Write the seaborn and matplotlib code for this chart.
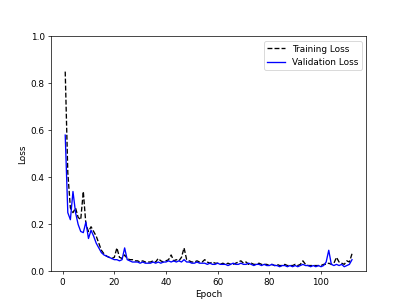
import matplotlib
matplotlib.use("Agg")
import matplotlib.pyplot as plt
import seaborn as sns
import pandas as pd

train_loss = [
    0.85, 0.42, 0.27, 0.25, 0.27, 0.23, 0.22, 0.34, 0.20, 0.17,
    0.19, 0.17, 0.15, 0.12, 0.09, 0.075, 0.065, 0.06, 0.055, 0.06,
    0.10, 0.06, 0.055, 0.07, 0.055, 0.05, 0.05, 0.045, 0.045, 0.04,
    0.045, 0.04, 0.04, 0.04, 0.045, 0.04, 0.055, 0.045, 0.04, 0.045,
    0.05, 0.07, 0.045, 0.05, 0.045, 0.06, 0.10, 0.05, 0.045, 0.04,
    0.04, 0.045, 0.04, 0.04, 0.05, 0.04, 0.035, 0.04, 0.035, 0.035,
    0.03, 0.035, 0.03, 0.035, 0.03, 0.03, 0.035, 0.04, 0.045, 0.035,
    0.04, 0.03, 0.035, 0.03, 0.03, 0.035, 0.03, 0.03, 0.03, 0.025,
    0.03, 0.025, 0.03, 0.025, 0.025, 0.03, 0.025, 0.025, 0.025, 0.03,
    0.025, 0.03, 0.045, 0.03, 0.025, 0.025, 0.025, 0.025, 0.025, 0.025,
    0.03, 0.03, 0.035, 0.03, 0.035, 0.06, 0.04, 0.035, 0.03, 0.045,
    0.04, 0.075,
]

val_loss = [
    0.58, 0.25, 0.22, 0.34, 0.25, 0.20, 0.17, 0.165, 0.21, 0.14,
    0.175, 0.15, 0.12, 0.10, 0.08, 0.07, 0.065, 0.06, 0.055, 0.05,
    0.05, 0.045, 0.05, 0.10, 0.05, 0.045, 0.04, 0.04, 0.04, 0.035,
    0.04, 0.035, 0.035, 0.035, 0.04, 0.035, 0.04, 0.035, 0.04, 0.04,
    0.045, 0.04, 0.045, 0.04, 0.045, 0.04, 0.05, 0.04, 0.04, 0.035,
    0.035, 0.04, 0.035, 0.035, 0.035, 0.03, 0.035, 0.03, 0.03, 0.035,
    0.03, 0.03, 0.03, 0.025, 0.03, 0.035, 0.03, 0.03, 0.035, 0.03,
    0.03, 0.035, 0.03, 0.025, 0.03, 0.03, 0.025, 0.03, 0.025, 0.025,
    0.03, 0.025, 0.025, 0.02, 0.025, 0.025, 0.02, 0.025, 0.02, 0.025,
    0.02, 0.025, 0.03, 0.025, 0.025, 0.02, 0.025, 0.02, 0.025, 0.02,
    0.025, 0.04, 0.09, 0.03, 0.025, 0.03, 0.025, 0.03, 0.02, 0.025,
    0.03, 0.05,
]

epochs = list(range(1, len(train_loss) + 1))

df = pd.DataFrame({"epoch": epochs, "train": train_loss, "val": val_loss})

fig, ax = plt.subplots(figsize=(6.4, 4.8), dpi=63.6)
sns.lineplot(data=df, x="epoch", y="train", ax=ax, color="black",
             linestyle="--", label="Training Loss")
sns.lineplot(data=df, x="epoch", y="val", ax=ax, color="blue",
             label="Validation Loss")
ax.set_ylim(0, 1.0)
ax.set_xlabel("Epoch")
ax.set_ylabel("Loss")
ax.legend(loc="upper right")

fig.savefig("out.png", dpi=63.6)
